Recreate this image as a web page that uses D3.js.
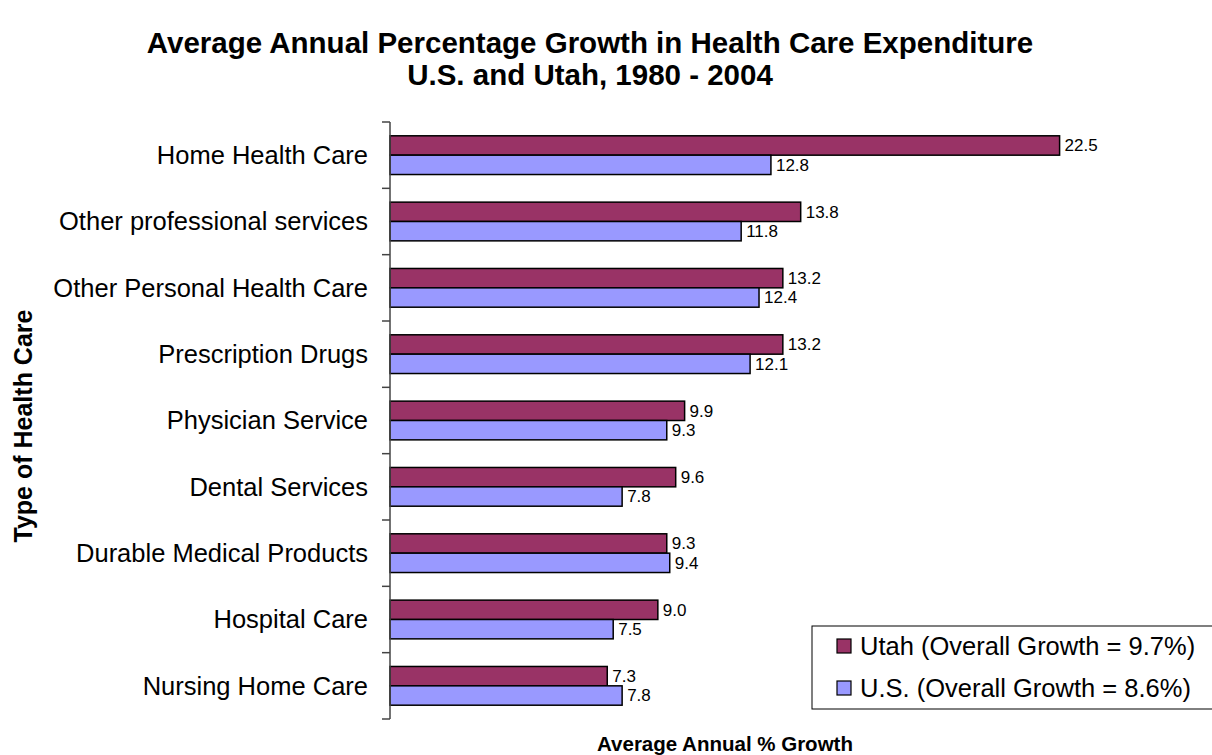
<!DOCTYPE html>
<html>
<head>
<meta charset="utf-8">
<script src="https://cdn.jsdelivr.net/npm/d3@7"></script>
<style>
  html, body { margin: 0; padding: 0; background: #fff; }
  svg { display: block; font-family: Arial, "Liberation Sans", sans-serif; }
</style>
</head>
<body>
<svg id="chart" width="1212" height="755"></svg>
<script>
// Health care categories, top to bottom
const categories = [
  "Home Health Care",
  "Other professional services",
  "Other Personal Health Care",
  "Prescription Drugs",
  "Physician Service",
  "Dental Services",
  "Durable Medical Products",
  "Hospital Care",
  "Nursing Home Care"
];

// Average annual % growth, 1980 - 2004
const utahValues = [22.5, 13.8, 13.2, 13.2, 9.9, 9.6, 9.3, 9.0, 7.3];
const usValues   = [12.8, 11.8, 12.4, 12.1, 9.3, 7.8, 9.4, 7.5, 7.8];

const seriesNames  = ["Utah", "U.S."];
const legendLabels = ["Utah (Overall Growth = 9.7%)", "U.S. (Overall Growth = 8.6%)"];
const titleLines   = ["Average Annual Percentage Growth in Health Care Expenditure",
                      "U.S. and Utah, 1980 - 2004"];
const xTitle = "Average Annual % Growth";
const yTitle = "Type of Health Care";

const colors = { "Utah": "#993366", "U.S.": "#9999FF" };

const svg = d3.select("#chart");

const rows = categories.map((c, i) => ({
  category: c,
  values: [
    { series: "Utah", value: utahValues[i] },
    { series: "U.S.", value: usValues[i] }
  ]
}));

// Scales
const x = d3.scaleLinear().domain([0, 25]).range([390, 1134]);
const y = d3.scaleBand().domain(categories).range([122, 719]).paddingInner(0).paddingOuter(0);
const ySub = d3.scaleBand().domain(seriesNames).range([0, y.bandwidth()]).paddingInner(0).paddingOuter(0.713);

// Title
svg.append("g").selectAll("text")
  .data(titleLines)
  .join("text")
  .attr("x", 590)
  .attr("y", (d, i) => 43 + i * 32)
  .attr("dy", "0.35em")
  .attr("text-anchor", "middle")
  .style("font-size", "29.5px")
  .style("font-weight", "bold")
  .text(d => d);

// Bars
const groups = svg.append("g").selectAll("g")
  .data(rows)
  .join("g")
  .attr("transform", d => `translate(0,${y(d.category)})`);

groups.selectAll("rect")
  .data(d => d.values)
  .join("rect")
  .attr("x", x(0))
  .attr("y", d => ySub(d.series))
  .attr("width", d => x(d.value) - x(0))
  .attr("height", ySub.bandwidth())
  .attr("fill", d => colors[d.series])
  .attr("stroke", "#000")
  .attr("stroke-width", 1.5);

// Value labels
groups.selectAll("text")
  .data(d => d.values)
  .join("text")
  .attr("x", d => x(d.value) + 5)
  .attr("y", d => ySub(d.series) + ySub.bandwidth() / 2)
  .attr("dy", "0.35em")
  .style("font-size", "17px")
  .text(d => d.value.toFixed(1));

// Category axis: line with tick marks at band boundaries
const axisG = svg.append("g");
axisG.append("line")
  .attr("x1", x(0)).attr("x2", x(0))
  .attr("y1", y.range()[0]).attr("y2", y.range()[1])
  .attr("stroke", "#444").attr("stroke-width", 1.5);

const boundaries = categories.map(c => y(c)).concat([y.range()[1]]);
axisG.selectAll("line.tick")
  .data(boundaries)
  .join("line")
  .attr("class", "tick")
  .attr("x1", x(0) - 8).attr("x2", x(0))
  .attr("y1", d => d).attr("y2", d => d)
  .attr("stroke", "#444").attr("stroke-width", 1.5);

axisG.selectAll("text")
  .data(categories)
  .join("text")
  .attr("x", 368)
  .attr("y", d => y(d) + y.bandwidth() / 2)
  .attr("dy", "0.35em")
  .attr("text-anchor", "end")
  .style("font-size", "25.5px")
  .text(d => d);

// Axis titles
svg.append("text")
  .attr("x", 725)
  .attr("y", 744)
  .attr("dy", "0.35em")
  .attr("text-anchor", "middle")
  .style("font-size", "20.5px")
  .style("font-weight", "bold")
  .text(xTitle);

svg.append("text")
  .attr("transform", "translate(23,426) rotate(-90)")
  .attr("dy", "0.35em")
  .attr("text-anchor", "middle")
  .style("font-size", "25px")
  .style("font-weight", "bold")
  .text(yTitle);

// Legend
const legend = svg.append("g");
legend.append("rect")
  .attr("x", 812).attr("y", 626)
  .attr("width", 420).attr("height", 83)
  .attr("fill", "#fff")
  .attr("stroke", "#000").attr("stroke-width", 1);

const legendItems = legend.selectAll("g.item")
  .data(seriesNames)
  .join("g")
  .attr("class", "item")
  .attr("transform", (d, i) => `translate(837,${646 + i * 42})`);

legendItems.append("rect")
  .attr("x", 0).attr("y", -7)
  .attr("width", 14).attr("height", 14)
  .attr("fill", d => colors[d])
  .attr("stroke", "#000").attr("stroke-width", 1.2);

legendItems.append("text")
  .attr("x", 23)
  .attr("y", 0)
  .attr("dy", "0.35em")
  .style("font-size", "25.5px")
  .text((d, i) => legendLabels[i]);
</script>
</body>
</html>
